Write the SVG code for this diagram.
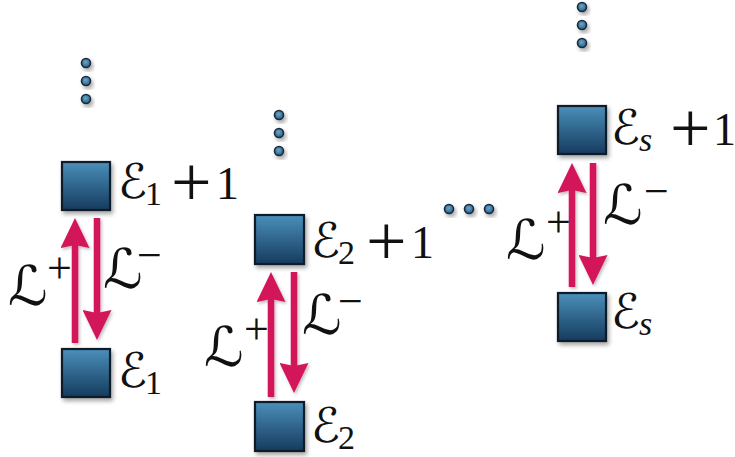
<svg xmlns="http://www.w3.org/2000/svg" width="735" height="457" viewBox="0 0 735 457">
<style>
.sq{fill:url(#sqg);stroke:#0d1a26;stroke-width:2.2;filter:url(#sh)}
.dot{fill:url(#dg);stroke:#1b2c3c;stroke-width:1.6;filter:url(#sh)}
.ar{stroke:#d3175a;stroke-width:6.5;fill:none}
text{font-family:"DejaVu Sans",sans-serif;fill:#111}
.L{font-size:55px}
.E{font-size:48px}
.d{font-family:"Liberation Serif","Times New Roman",serif}
.sup{font-size:44px}
.sub{font-size:34px}
.pl{font-size:72px}
.one{font-size:46px}
.it{font-style:italic}
</style>
<defs>
<linearGradient id="sqg" x1="0" y1="0" x2="0" y2="1">
<stop offset="0" stop-color="#4a8fba"/>
<stop offset="1" stop-color="#163b5e"/>
</linearGradient>
<radialGradient id="dg" cx="0.45" cy="0.4" r="0.6">
<stop offset="0" stop-color="#6aa6cc"/>
<stop offset="1" stop-color="#2a5f86"/>
</radialGradient>
<filter id="sh" x="-30%" y="-30%" width="170%" height="170%">
<feDropShadow dx="2" dy="3" stdDeviation="2" flood-color="#000" flood-opacity="0.35"/>
</filter>
<filter id="sh2" filterUnits="userSpaceOnUse" x="0" y="0" width="735" height="457">
<feDropShadow dx="1.5" dy="2" stdDeviation="1.5" flood-color="#000" flood-opacity="0.25"/>
</filter>
<marker id="ah" viewBox="0 0 30 29" refX="4" refY="14.5" markerWidth="30" markerHeight="29" markerUnits="userSpaceOnUse" orient="auto">
<path d="M0,0 L30,14.5 L0,29 L3,14.5 Z" fill="#d3175a"/>
</marker>
</defs>

<g id="connectors" filter="url(#sh2)">
<line class="ar" x1="75" y1="343" x2="75" y2="244" marker-end="url(#ah)"/>
<line class="ar" x1="97" y1="218" x2="97" y2="314" marker-end="url(#ah)"/>
<line class="ar" x1="271" y1="397" x2="271" y2="298" marker-end="url(#ah)"/>
<line class="ar" x1="294" y1="272" x2="294" y2="367" marker-end="url(#ah)"/>
<line class="ar" x1="572" y1="287" x2="572" y2="189" marker-end="url(#ah)"/>
<line class="ar" x1="593" y1="163" x2="593" y2="259" marker-end="url(#ah)"/>
</g>

<g id="labels">
<text class="L" x="8" y="305">ℒ</text><text class="d sup" x="47" y="283">+</text>
<text class="L" x="103" y="288">ℒ</text><text class="d sup" x="137" y="270">−</text>
<text class="L" x="204" y="366">ℒ</text><text class="d sup" x="244" y="344">+</text>
<text class="L" x="302" y="334">ℒ</text><text class="d sup" x="338" y="316">−</text>
<text class="L" x="506" y="259">ℒ</text><text class="d sup" x="546" y="237">+</text>
<text class="L" x="603" y="224">ℒ</text><text class="d sup" x="644" y="206">−</text>
</g>

<g id="dots1"><circle class="dot" cx="86" cy="63" r="4.5"/><circle class="dot" cx="86" cy="81" r="4.5"/><circle class="dot" cx="86" cy="99" r="4.5"/></g>
<g id="dots2"><circle class="dot" cx="279" cy="115" r="4.5"/><circle class="dot" cx="279" cy="133" r="4.5"/><circle class="dot" cx="279" cy="151" r="4.5"/></g>
<g id="dotss"><circle class="dot" cx="582" cy="7" r="4.5"/><circle class="dot" cx="582" cy="25" r="4.5"/><circle class="dot" cx="582" cy="43" r="4.5"/></g>
<g id="dotsh"><circle class="dot" cx="449" cy="209" r="4.5"/><circle class="dot" cx="469" cy="209" r="4.5"/><circle class="dot" cx="489" cy="209" r="4.5"/></g>

<g id="n1top">
<rect class="sq" x="62" y="162" width="48" height="48"/>
<text class="E" x="118" y="198">ℰ</text><text class="d sub" x="145" y="205">1</text><text class="d pl" x="171" y="206">+</text><text class="d one" x="216" y="199">1</text>
</g>
<g id="n1bot">
<rect class="sq" x="62" y="349" width="48" height="48"/>
<text class="E" x="118" y="387">ℰ</text><text class="d sub" x="145" y="394">1</text>
</g>
<g id="n2top">
<rect class="sq" x="255" y="215" width="49" height="49"/>
<text class="E" x="311" y="257">ℰ</text><text class="d sub" x="338" y="264">2</text><text class="d pl" x="366" y="265">+</text><text class="d one" x="411" y="258">1</text>
</g>
<g id="n2bot">
<rect class="sq" x="255" y="402" width="49" height="49"/>
<text class="E" x="311" y="442">ℰ</text><text class="d sub" x="338" y="449">2</text>
</g>
<g id="nstop">
<rect class="sq" x="558" y="106" width="48" height="48"/>
<text class="E" x="611" y="144">ℰ</text><text class="d sub it" x="639" y="151">s</text><text class="d pl" x="670" y="152">+</text><text class="d one" x="713" y="145">1</text>
</g>
<g id="nsbot">
<rect class="sq" x="558" y="293" width="48" height="48"/>
<text class="E" x="611" y="328">ℰ</text><text class="d sub it" x="639" y="335">s</text>
</g>
</svg>
